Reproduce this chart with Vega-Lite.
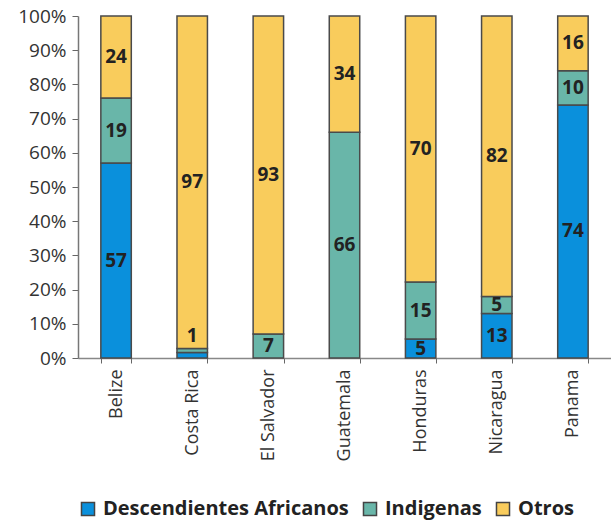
{
  "$schema": "https://vega.github.io/schema/vega-lite/v6.json",
  "autosize": "none",
  "width": 533,
  "height": 342,
  "padding": {"left": 78, "top": 16, "right": 0, "bottom": 165},
  "background": "white",
  "config": {"view": {"stroke": null}, "font": "Open Sans"},
  "data": {"values": [
    {"pais": "Belize", "grupo": "Descendientes Africanos", "valor": 57, "etiqueta": "57"},
    {"pais": "Belize", "grupo": "Indigenas", "valor": 19, "etiqueta": "19"},
    {"pais": "Belize", "grupo": "Otros", "valor": 24, "etiqueta": "24"},
    {"pais": "Costa Rica", "grupo": "Descendientes Africanos", "valor": 1.6, "etiqueta": ""},
    {"pais": "Costa Rica", "grupo": "Indigenas", "valor": 1.2, "etiqueta": "1"},
    {"pais": "Costa Rica", "grupo": "Otros", "valor": 97, "etiqueta": "97"},
    {"pais": "El Salvador", "grupo": "Indigenas", "valor": 7, "etiqueta": "7"},
    {"pais": "El Salvador", "grupo": "Otros", "valor": 93, "etiqueta": "93"},
    {"pais": "Guatemala", "grupo": "Indigenas", "valor": 66, "etiqueta": "66"},
    {"pais": "Guatemala", "grupo": "Otros", "valor": 34, "etiqueta": "34"},
    {"pais": "Honduras", "grupo": "Descendientes Africanos", "valor": 5, "etiqueta": "5"},
    {"pais": "Honduras", "grupo": "Indigenas", "valor": 15, "etiqueta": "15"},
    {"pais": "Honduras", "grupo": "Otros", "valor": 70, "etiqueta": "70"},
    {"pais": "Nicaragua", "grupo": "Descendientes Africanos", "valor": 13, "etiqueta": "13"},
    {"pais": "Nicaragua", "grupo": "Indigenas", "valor": 5, "etiqueta": "5"},
    {"pais": "Nicaragua", "grupo": "Otros", "valor": 82, "etiqueta": "82"},
    {"pais": "Panama", "grupo": "Descendientes Africanos", "valor": 74, "etiqueta": "74"},
    {"pais": "Panama", "grupo": "Indigenas", "valor": 10, "etiqueta": "10"},
    {"pais": "Panama", "grupo": "Otros", "valor": 16, "etiqueta": "16"}
  ]},
  "transform": [
    {"stack": "valor", "groupby": ["pais"], "sort": [{"field": "grupo", "order": "ascending"}], "as": ["v0", "v1"], "offset": "normalize"},
    {"calculate": "(datum.v0 + datum.v1) / 2", "as": "vmid"}
  ],
  "encoding": {
    "x": {
      "field": "pais", "type": "nominal", "sort": null,
      "scale": {"paddingInner": 0.6, "paddingOuter": 0.3},
      "axis": {
        "title": null, "labelAngle": -90, "labelFontSize": 18, "labelColor": "#333",
        "labelFont": "Open Sans", "labelPadding": 6, "tickBand": "extent",
        "tickSize": 5, "tickColor": "#666", "domainColor": "#888", "domainWidth": 1.5
      }
    }
  },
  "layer": [
    {
      "mark": {"type": "bar", "stroke": "#4a4a4a", "strokeWidth": 1.5},
      "encoding": {
        "y": {
          "field": "v0", "type": "quantitative",
          "scale": {"domain": [0, 1]},
          "axis": {
            "title": null, "format": "%", "tickCount": 10, "grid": false,
            "labelFontSize": 19, "labelColor": "#333", "labelFont": "Open Sans",
            "tickSize": 6, "tickColor": "#666", "domainColor": "#777", "domainWidth": 1.5,
            "labelPadding": 6
          }
        },
        "y2": {"field": "v1"},
        "color": {
          "field": "grupo", "type": "nominal",
          "scale": {"domain": ["Descendientes Africanos", "Indigenas", "Otros"], "range": ["#0a90dc", "#69b6a9", "#f9cc5c"]},
          "legend": {
            "title": null, "orient": "none", "direction": "horizontal",
            "legendX": 0, "legendY": 483,
            "symbolType": "square", "symbolSize": 170, "symbolStrokeColor": "#444",
            "symbolStrokeWidth": 1.5, "symbolOpacity": 1, "labelLimit": 0,
            "labelFontSize": 20, "labelFontWeight": "bold", "labelColor": "#222",
            "labelFont": "Open Sans", "columnPadding": 11, "labelOffset": 5
          }
        }
      }
    },
    {
      "transform": [{"filter": "datum.etiqueta != '' && !(datum.pais == 'Costa Rica' && datum.grupo == 'Indigenas')"}],
      "mark": {"type": "text", "fontSize": 19, "fontWeight": "bold", "color": "#222", "font": "Open Sans", "baseline": "middle"},
      "encoding": {
        "y": {"field": "vmid", "type": "quantitative"},
        "text": {"field": "etiqueta"}
      }
    },
    {
      "transform": [{"filter": "datum.pais == 'Costa Rica' && datum.grupo == 'Indigenas'"}],
      "mark": {"type": "text", "fontSize": 19, "fontWeight": "bold", "color": "#222", "font": "Open Sans", "baseline": "bottom", "dy": -2},
      "encoding": {
        "y": {"field": "v1", "type": "quantitative"},
        "text": {"field": "etiqueta"}
      }
    }
  ]
}
